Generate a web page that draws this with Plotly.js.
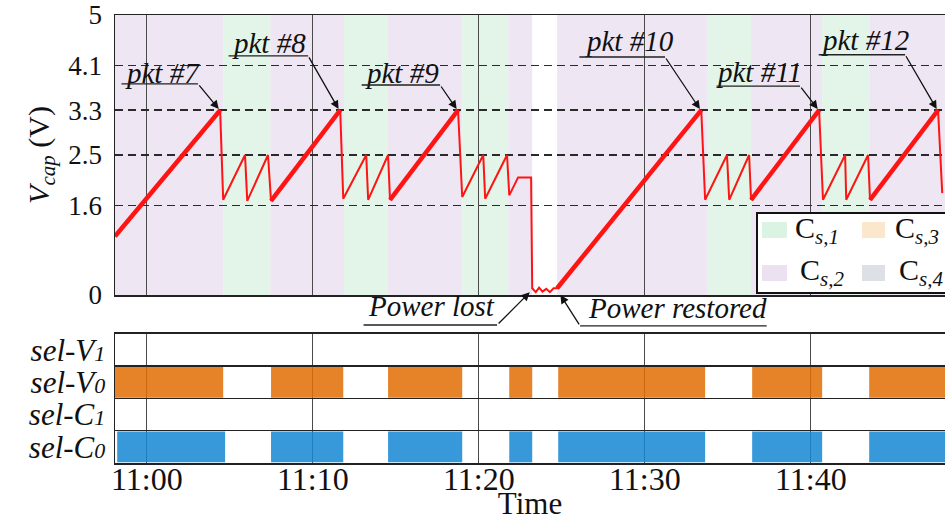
<!DOCTYPE html>
<html><head><meta charset="utf-8">
<script src="https://cdn.plot.ly/plotly-3.0.1.min.js"></script>
<style>html,body{margin:0;padding:0;background:#fff}</style>
</head><body><div id="chart" style="width:945px;height:521px"></div>
<script>
const DAY = '2019-06-01 ';
// Capacitor voltage (time, volts)
const vcapTime = ['10:58:05','11:04:25','11:04:36','11:05:55','11:06:03','11:07:18','11:07:29','11:11:39','11:11:50','11:13:13','11:13:20','11:14:32','11:14:39','11:18:45','11:19:00','11:20:16','11:20:23','11:21:42','11:21:50','11:22:22','11:23:09','11:23:13','11:23:26','11:23:38','11:23:50','11:24:04','11:24:17','11:24:30','11:24:43','11:33:24','11:33:38','11:34:57','11:35:05','11:36:17','11:36:24','11:40:30','11:40:44','11:42:04','11:42:08','11:43:27','11:43:34','11:47:40','11:47:55'];
const vcapVolt = [1.05,3.3,1.7,2.5,1.68,2.5,1.68,3.3,1.72,2.5,1.7,2.5,1.7,3.3,1.75,2.5,1.72,2.5,1.78,2.1,2.1,0.12,0.05,0.13,0.06,0.11,0.05,0.12,0.12,3.3,1.7,2.5,1.7,2.5,1.7,3.3,1.7,2.5,1.7,2.5,1.7,3.3,1.82];

// Active storage capacitor bands (background)
const cs1Start = ['11:04:36','11:11:53','11:19:00','11:33:45','11:40:41'];
const cs1End   = ['11:07:26','11:14:32','11:21:46','11:36:24','11:43:34'];
const cs2Start = ['10:57:30','11:07:26','11:14:32','11:21:46','11:24:43','11:36:24','11:43:34'];
const cs2End   = ['11:04:36','11:11:53','11:19:00','11:23:13','11:33:45','11:40:41','11:48:40'];

// Select signals
const selRows = ['sel-V1','sel-V0','sel-C1','sel-C0'];
const selV0Start = ['10:58:00','11:07:29','11:14:32','11:21:50','11:24:47','11:36:28','11:43:31'];
const selV0End   = ['11:04:36','11:11:50','11:19:00','11:23:13','11:33:38','11:40:41','11:48:40'];
const selC0Start = ['10:58:13','11:07:29','11:14:32','11:21:50','11:24:47','11:36:28','11:43:31'];
const selC0End   = ['11:04:43','11:11:50','11:19:00','11:23:13','11:33:38','11:40:41','11:48:40'];

const legendNames = ['C<sub><i>s,1</i></sub>','C<sub><i>s,2</i></sub>','C<sub><i>s,3</i></sub>','C<sub><i>s,4</i></sub>'];
const legendColors = ['#dbf3e2','#ece1f1','#fbe7cc','#dde0e4'];

const T = s => DAY + s;
const sec = s => { const p = s.split(':').map(Number); return p[0]*3600 + p[1]*60 + p[2]; };

const SERIF = 'Liberation Serif, Times New Roman, serif';
const rowLabel = r => '<i>' + r.slice(0, 5) + '</i><span style="font-size:22px"><i>' + r.slice(5) + '</i></span>';

// thick charging ramps
const rx = [], ry = [];
for (let i = 0; i < vcapTime.length - 1; i++) {
  const dt = sec(vcapTime[i+1]) - sec(vcapTime[i]);
  const dv = vcapVolt[i+1] - vcapVolt[i];
  if (dt > 100 && dv > 0.5) {
    rx.push(T(vcapTime[i]), T(vcapTime[i+1]), null);
    ry.push(vcapVolt[i], vcapVolt[i+1], null);
  }
}

const traces = [
  {type:'scatter', mode:'lines', x: vcapTime.map(T), y: vcapVolt, xaxis:'x', yaxis:'y',
   line:{color:'#ff1414', width:2}, hoverinfo:'skip', showlegend:false},
  {type:'scatter', mode:'lines', x: rx, y: ry, xaxis:'x', yaxis:'y',
   line:{color:'#ff1414', width:4.5}, hoverinfo:'skip', showlegend:false, connectgaps:false},
  {type:'bar', orientation:'h', y: selV0Start.map(() => rowLabel('sel-V0')),
   base: selV0Start.map(T), x: selV0Start.map((s,i) => (sec(selV0End[i]) - sec(s))*1000),
   xaxis:'x', yaxis:'y2', width:0.96, marker:{color:'rgba(226,110,4,0.86)', line:{width:0}},
   hoverinfo:'skip', showlegend:false},
  {type:'bar', orientation:'h', y: selC0Start.map(() => rowLabel('sel-C0')),
   base: selC0Start.map(T), x: selC0Start.map((s,i) => (sec(selC0End[i]) - sec(s))*1000),
   xaxis:'x', yaxis:'y2', width:0.96, marker:{color:'rgba(22,135,212,0.86)', line:{width:0}},
   hoverinfo:'skip', showlegend:false}
];

const shapes = [];
cs2Start.forEach((s,i) => shapes.push({type:'rect', xref:'x', yref:'y', x0:T(s), x1:T(cs2End[i]), y0:0, y1:5,
  fillcolor:'#efe6f3', line:{width:0}, layer:'below'}));
cs1Start.forEach((s,i) => shapes.push({type:'rect', xref:'x', yref:'y', x0:T(s), x1:T(cs1End[i]), y0:0, y1:5,
  fillcolor:'#e2f5e8', line:{width:0}, layer:'below'}));

// legend box (manual, 2x2)
shapes.push({type:'rect', xref:'paper', yref:'paper', x0:0.7735, x1:1.03, y0:0.3795, y1:0.558,
  fillcolor:'#ffffff', line:{color:'#111', width:2}, layer:'above'});
const swX = [[0.7795,0.8096],[0.7795,0.8096],[0.900,0.9277],[0.900,0.9277]];
const swY = [[0.5022,0.5379],[0.4063,0.4420],[0.5022,0.5379],[0.4063,0.4420]];
legendColors.forEach((c,i) => shapes.push({type:'rect', xref:'paper', yref:'paper',
  x0:swX[i][0], x1:swX[i][1], y0:swY[i][0], y1:swY[i][1], fillcolor:c, line:{width:0}, layer:'above'}));

const annFont = {family:SERIF, size:29, color:'#111'};
const ann = [];
const lblX = [0.8169,0.8229,0.9373,0.9422], lblY = [0.5201,0.4263,0.5201,0.4263];
legendNames.forEach((n,i) => ann.push({xref:'paper', yref:'paper', x:lblX[i], y:lblY[i], text:n,
  showarrow:false, xanchor:'left', yanchor:'middle', font:{family:SERIF, size:30, color:'#111'}}));

// packet callouts: [label, textX, textY, underline start X, knee X, underline Y, head X, head Y]
const pkts = [
  ['pkt #7','11:00:57',3.96,'10:58:23','11:03:05',3.77,'11:04:20',3.32],
  ['pkt #8','11:07:20',4.50,'11:04:50','11:09:43',4.27,'11:11:33',3.32],
  ['pkt #9','11:15:21',3.96,'11:12:51','11:17:40',3.75,'11:18:40',3.32],
  ['pkt #10','11:29:03',4.54,'11:25:58','11:31:13',4.25,'11:33:19',3.32],
  ['pkt #11','11:36:54',3.98,'11:34:14','11:39:21',3.73,'11:40:25',3.32],
  ['pkt #12','11:43:16',4.55,'11:40:23','11:45:41',4.29,'11:47:35',3.32]
];
pkts.forEach(p => {
  ann.push({xref:'x', yref:'y', x:T(p[1]), y:p[2], text:'<i>'+p[0]+'</i>', showarrow:false, font:annFont});
  ann.push({xref:'x', yref:'y', axref:'x', ayref:'y', x:T(p[4]), y:p[5], ax:T(p[3]), ay:p[5], text:'',
    showarrow:true, arrowhead:0, arrowwidth:1.3, arrowcolor:'#222'});
  ann.push({xref:'x', yref:'y', axref:'x', ayref:'y', x:T(p[6]), y:p[7], ax:T(p[4]), ay:p[5], text:'',
    showarrow:true, arrowhead:2, arrowsize:1.3, arrowwidth:1.3, arrowcolor:'#111'});
});
// power callouts (paper y)
const pwr = [
  ['Power lost','11:17:08',0.350,'11:12:58','11:21:06',0.308,'11:23:04',0.381],
  ['Power restored','11:31:58',0.346,'11:37:26','11:26:06',0.306,'11:24:55',0.375]
];
pwr.forEach(p => {
  ann.push({xref:'x', yref:'paper', x:T(p[1]), y:p[2], text:'<i>'+p[0]+'</i>', showarrow:false, font:annFont});
  ann.push({xref:'x', yref:'paper', axref:'x', ayref:'paper', x:T(p[4]), y:p[5], ax:T(p[3]), ay:p[5], text:'',
    showarrow:true, arrowhead:0, arrowwidth:1.3, arrowcolor:'#222'});
  ann.push({xref:'x', yref:'paper', axref:'x', ayref:'paper', x:T(p[6]), y:p[7], ax:T(p[4]), ay:p[5], text:'',
    showarrow:true, arrowhead:2, arrowsize:1.3, arrowwidth:1.3, arrowcolor:'#111'});
});

const layout = {
  width:945, height:521, margin:{l:115, r:0, t:15, b:58},
  paper_bgcolor:'#fff', plot_bgcolor:'rgba(0,0,0,0)', showlegend:false, barmode:'overlay',
  font:{family:SERIF, color:'#111'},
  xaxis:{type:'date', anchor:'y2', domain:[0,1], range:[T('10:58:05'), T('11:48:05')],
    tickformat:'%H:%M', tick0:T('11:00:00'), dtick:600000, ticks:'', ticklabelstandoff:-13,
    showgrid:true, gridcolor:'#4a4a4a', gridwidth:1, zeroline:false,
    showline:true, linecolor:'#222', linewidth:1.5, mirror:'all',
    tickfont:{family:SERIF, size:32, color:'#111'},
    title:{text:'Time', font:{family:SERIF, size:31, color:'#111'}, standoff:4}},
  yaxis:{domain:[0.375,1], anchor:'x', range:[0,5], tickmode:'array',
    tickvals:[0,1.6,2.5,3.3,4.1,5], ticktext:['0','1.6','2.5','3.3','4.1','5'], ticks:'',
    showgrid:true, gridcolor:'#2a2a2a', gridwidth:1.6, griddash:'8px,5px', zeroline:false,
    showline:true, linecolor:'#222', linewidth:1.5, mirror:false, ticklabelstandoff:6,
    tickfont:{family:SERIF, size:27, color:'#111'},
    title:{text:'<i>V</i><sub><i>cap</i></sub> (V)', font:{family:SERIF, size:30, color:'#111'}, standoff:10}},
  yaxis2:{domain:[0,0.288], anchor:'x', type:'category', categoryorder:'array',
    categoryarray:selRows.map(rowLabel), range:[3.5,-0.5], tickmode:'linear', tick0:0, dtick:1,
    tickson:'boundaries', ticks:'',
    showgrid:true, gridcolor:'#222', gridwidth:1.5, zeroline:false,
    showline:true, linecolor:'#222', linewidth:1.5, ticklabelstandoff:2,
    tickfont:{family:SERIF, size:31, color:'#111'}},
  shapes:shapes, annotations:ann
};
Plotly.newPlot('chart', traces, layout, {displayModeBar:false, staticPlot:true});
</script></body></html>
